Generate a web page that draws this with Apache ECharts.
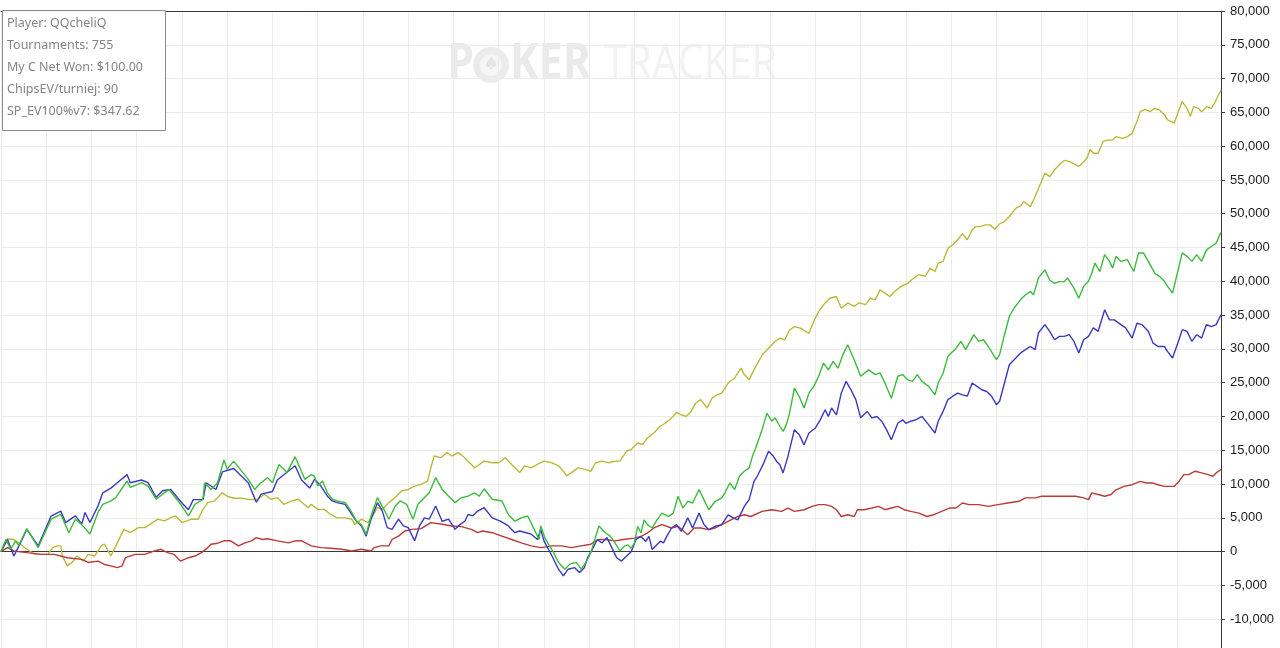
<!DOCTYPE html>
<html><head><meta charset="utf-8">
<script src="https://cdn.jsdelivr.net/npm/echarts@6/dist/echarts.min.js"></script>
<style>html,body{margin:0;padding:0;background:#fff}#c{width:1280px;height:648px}</style>
</head><body><div id="c"></div>
<script>
const infoLines = ['Player: QQcheliQ', 'Tournaments: 755', 'My C Net Won: $100.00', 'ChipsEV/turniej: 90', 'SP_EV100%v7: $347.62'];
const tournamentCount = 755;

// [tournament, chips]
const bluePts = [[0,0],[4,1800],[8,-650],[12,1300],[16,3300],[23,840],[31,5270],[37,6000],[40,4300],[46,5300],[50,4100],[52,5800],[55,4300],[60,6750],[63,8700],[68,9400],[72,10200],[78,11400],[80,10200],[87,10600],[91,10200],[96,8050],[100,9000],[105,9200],[112,7200],[116,6200],[119,7700],[125,7700],[127,10200],[133,9200],[137,11800],[144,12300],[153,10200],[158,7300],[161,8500],[168,8900],[171,10600],[182,12700],[186,10600],[191,9400],
[194,10700],[198,9700],[202,8200],[205,7500],[208,7250],[213,7000],[215,6250],[219,4800],[223,3800],[226,2300],[229,4800],[233,7250],[236,6000],[239,3550],[242,3300],[246,4800],[249,3800],[252,3550],[256,1600],[259,3800],[262,5000],[265,4800],[269,6750],[273,4500],[277,4800],[281,3300],[284,4000],[287,4500],[289,5500],[292,5300],[295,6000],[299,6500],[304,5000],[309,4500],[314,3800],[318,2800],[321,3050],[325,2800],[328,2600],[332,1800],[334,3300],[336,1600],[341,-650],[345,-2600],[348,-3600],[351,-2600],[355,-2370],[358,-3100],[361,-2370],[363,-900],[366,350],[369,1800],[372,1300],[375,2070],[378,600],[381,-900],
[384,-1400],[387,-700],[390,0],[393,1800],[396,2250],[399,1500],[401,2250],[403,300],[405,800],[408,1550],[410,1300],[412,2250],[415,3500],[418,4000],[421,3000],[425,5000],[428,3500],[432,5700],[435,4000],[438,3250],[442,3750],[446,4000],[450,5450],[453,5000],[456,4700],[458,5700],[460,6700],[463,7700],[466,10400],[468,11150],[472,13100],[475,14850],[478,14100],[480,13350],[482,12850],[484,11650],[487,14100],[491,18050],[494,17300],[497,15800],[500,17550],[504,18300],[507,19500],[510,21000],[512,20000],[514,21250],[517,20250],[520,23450],[523,25200],[526,23950],[529,22500],[532,19800],[536,20750],[539,19800],[542,20000],[545,19300],[548,18050],[551,16550],[555,19000],[558,19500],[560,19000],[563,19300],[566,19500],[570,20000],[574,18800],[578,17550],
[580,19300],[583,20750],[586,22500],[589,23000],[592,23450],[595,23200],[598,23000],[601,24950],[604,24450],[607,23950],[610,23700],[613,23000],[616,21750],[618,22250],[621,24950],[624,27650],[628,28650],[631,29400],[634,29900],[637,30350],[640,29900],[642,32350],[646,33600],[649,32600],[652,31350],[655,31850],[658,31850],[661,32100],[664,31100],[667,29400],[670,31350],[673,31850],[676,33100],[679,32600],[683,35800],[686,34300],[689,34300],[693,33600],[696,33100],[700,31600],[703,33800],[706,33600],[710,32600],[713,30850],[716,30350],[720,30350],[722,29600],[725,28650],[729,31350],[731,32850],[734,32600],[737,31100],[740,32100],[743,31600],[746,33600],[749,33300],[752,33600],[755,35050]];

const greenPts = [[0,0],[3,1800],[6,350],[9,1600],[11,900],[16,3400],[23,600],[31,4800],[37,5500],[42,2800],[46,4800],[50,4000],[55,2600],[60,5800],[63,7000],[68,7500],[71,8000],[78,10450],[80,9500],[87,10200],[91,9700],[96,7750],[101,8700],[104,9200],[112,6750],[116,5300],[120,7000],[125,7750],[126,10200],[130,9200],[134,10200],[138,13550],[140,12200],[144,13400],[153,10700],[157,9200],[160,10000],[165,10950],[168,10200],[172,12900],[177,11700],[182,14050],[188,10700],[192,11400],
[194,11150],[196,9700],[199,10450],[202,8700],[205,7750],[208,7500],[213,7250],[216,6250],[220,4500],[223,4000],[226,2560],[229,5270],[233,8000],[237,6250],[240,4800],[244,6750],[247,7500],[251,7000],[255,4800],[258,7000],[261,7750],[265,8700],[269,10950],[273,9200],[277,8200],[281,7250],[285,8000],[289,8200],[293,8700],[296,8200],[299,9300],[304,7750],[310,7500],[314,5500],[318,4500],[322,5000],[326,5270],[330,3300],[333,1800],[334,3800],[337,1800],[342,-150],[345,-1600],[349,-2600],[352,-1850],[356,-1600],[359,-2600],[362,-1600],[365,-150],[370,3800],[374,2800],[377,2300],[380,1300],[383,100],[386,850],
[388,1000],[390,500],[392,1300],[394,3750],[396,2750],[398,4700],[400,4000],[403,3500],[406,4700],[409,5700],[413,5200],[416,5700],[419,8200],[422,6450],[425,7450],[428,7200],[432,9200],[435,7700],[438,6200],[442,7450],[446,7950],[448,8700],[451,10150],[454,9200],[457,11150],[460,11900],[463,12400],[465,14100],[467,15300],[471,18050],[474,20500],[477,19300],[479,19800],[482,18550],[484,17800],[486,18800],[488,20500],[491,24200],[494,22950],[497,21250],[500,23450],[503,24450],[506,25950],[509,27900],[512,26900],[515,28150],[518,27150],[521,29150],[524,30600],[528,28400],[532,25950],[537,26900],[541,26200],[544,26450],[547,24950],[551,22700],[555,25950],[558,26200],[561,25450],[564,25200],[567,26200],[570,25200],[574,24450],[578,23200],
[580,24950],[583,26400],[586,28900],[589,29600],[591,30100],[594,31100],[597,29900],[602,32100],[605,31100],[608,31350],[611,30350],[616,28400],[618,29150],[621,32100],[624,34800],[627,36050],[631,37300],[634,38000],[637,38500],[639,38000],[642,40500],[646,41700],[649,40200],[652,39700],[655,39950],[658,39950],[660,40500],[664,39000],[667,37500],[670,39250],[673,40000],[675,41200],[677,42700],[680,41450],[683,43950],[686,42950],[688,41950],[690,43700],[693,42950],[697,43200],[701,41450],[704,44200],[707,44200],[710,42950],[714,41200],[717,40700],[720,40000],[722,39250],[725,38250],[728,41200],[731,44200],[734,43700],[737,42950],[740,43950],[743,42950],[746,44650],[749,45150],[752,45650],[755,47250]];

const olivePts = [[0,0],[4,1900],[8,1800],[12,1100],[16,350],[21,-400],[25,-400],[29,-400],[32,600],[35,850],[37,850],[38,-650],[41,-2100],[44,-1600],[47,-650],[51,-1400],[54,-400],[58,-650],[62,850],[64,1100],[68,-650],[72,1300],[76,3300],[80,2800],[85,3550],[89,3550],[92,4000],[97,4800],[101,4550],[105,5000],[108,5300],[112,4300],[118,4800],[122,4800],[125,6250],[128,7250],[132,7500],[137,8700],[140,8200],[144,7900],[149,7900],[154,7700],[159,7750],[163,8500],[167,7750],[171,8000],[175,7000],[180,7500],[184,7750],[190,6500],
[192,7000],[196,6250],[200,6250],[204,5500],[208,5000],[213,5000],[217,4800],[219,4000],[223,4800],[227,4300],[230,5270],[233,6500],[236,6250],[240,7250],[244,8000],[248,9000],[252,9200],[256,9700],[260,9950],[264,10450],[266,12400],[268,14150],[272,13900],[276,14650],[279,14150],[283,14650],[287,13900],[290,13150],[293,12400],[296,12900],[299,13400],[304,13150],[308,13150],[312,13900],[316,12900],[319,12200],[321,11700],[324,12700],[328,12400],[332,12900],[336,13400],[341,13150],[345,12700],[348,11900],[350,11200],[353,11700],[357,12400],[361,12200],[365,11900],[368,13150],[372,13400],[376,13150],[380,13400],[383,13400],
[384,13350],[387,14850],[390,15100],[394,16100],[397,15850],[400,16800],[404,17550],[408,18550],[411,19000],[415,19770],[418,20600],[421,20250],[424,20000],[427,20750],[430,22000],[433,22500],[437,21250],[440,22700],[443,23200],[446,23450],[450,24950],[454,25700],[458,27150],[460,26200],[463,25450],[466,26900],[471,29100],[475,30100],[479,31100],[482,31600],[485,31350],[488,32800],[491,33300],[495,33050],[500,32300],[503,34050],[506,35550],[510,36800],[513,37500],[517,37750],[520,36000],[524,36800],[528,36300],[531,36800],[535,36550],[538,37500],[541,37250],[544,38750],[547,38250],[550,37750],[553,38500],[557,39250],[561,39700],[564,40300],
[568,41000],[572,40750],[575,41950],[578,41450],[580,42700],[583,42950],[586,44900],[589,45400],[592,46150],[595,47050],[598,46150],[601,47600],[603,48100],[606,48100],[609,48350],[612,48350],[615,47700],[618,48500],[621,48850],[624,49600],[628,50800],[631,51150],[633,51800],[637,51050],[640,52550],[643,54300],[646,56000],[649,55500],[652,56500],[655,57250],[658,57900],[661,57750],[665,57250],[667,57000],[670,57700],[672,58200],[674,59550],[676,58950],[679,58950],[682,60700],[685,60900],[688,60900],[690,61400],[694,61150],[697,61400],[700,61900],[703,63650],[705,65100],[708,65450],[711,65100],[714,65600],[717,65350],[720,64650],[722,63900],[726,63400],[729,65350],[731,66600],[734,65600],[736,64400],[738,65850],[741,65600],[743,65100],[746,65850],[749,65600],[751,66350],[753,67340],[755,68300]];

const redPts = [[0,0],[4,600],[8,100],[16,-150],[25,-400],[33,-400],[41,-900],[50,-1150],[54,-1600],[60,-1400],[64,-1900],[68,-2100],[72,-2370],[75,-2100],[77,-900],[83,-400],[89,-400],[95,100],[99,350],[103,-150],[107,-400],[111,-1400],[116,-900],[120,-650],[124,-150],[128,600],[130,1100],[134,1250],[138,1600],[142,1600],[147,850],[151,1300],[155,1600],[158,2070],[162,1800],[165,1900],[171,1600],[178,1300],[182,1600],[186,1600],[190,1100],
[192,850],[198,600],[204,500],[211,350],[217,100],[223,350],[229,100],[231,600],[235,850],[240,850],[242,1800],[246,2300],[250,3050],[254,3300],[260,3400],[266,4300],[273,4050],[279,3800],[285,3700],[291,3300],[295,2800],[298,3050],[304,2800],[310,2300],[316,1800],[322,1300],[328,850],[334,600],[341,850],[347,850],[353,600],[359,850],[365,1100],[370,1800],[374,1800],[380,1600],[385,1800],
[392,2000],[396,2250],[400,2750],[404,3500],[409,4000],[415,3500],[419,3750],[425,2500],[429,3500],[433,3500],[438,3250],[442,3500],[446,4000],[452,4750],[456,5200],[460,5450],[464,5200],[471,5950],[477,6200],[483,5950],[487,6450],[491,5950],[497,6200],[502,6700],[506,6950],[510,6950],[514,6700],[517,6200],[520,5200],[524,5450],[528,5200],[530,6200],[534,6200],[539,6450],[543,6700],[547,6200],[551,6450],[555,6700],[559,6200],[563,5950],[568,5700],[573,5200],[577,5450],[582,5950],[587,6450],[591,6450],[595,7200],[599,6950],[605,6950],[611,6700],[617,6950],[623,7200],[630,7450],[634,7950],[640,7950],[644,8200],[652,8200],[661,8200],[665,8200],[670,7950],[673,7700],[675,8700],[679,8450],[683,8200],[687,8450],[690,9150],[695,9650],[700,9900],[705,10400],[709,10150],[713,10150],[716,9900],[720,9650],[726,9650],[729,10400],[732,11400],[735,11400],[739,11900],[743,11650],[747,11400],[750,11150],[752,11650],[755,12150]];

const yMin = -15000, yMax = 80000, yStep = 5000, xStep = 28;

function fmt(v) {
  if (v < -12000) return '';
  const s = Math.abs(v).toString().replace(/\B(?=(\d{3})+(?!\d))/g, ',');
  return (v < 0 ? '-' : '') + s;
}

const chart = echarts.init(document.getElementById('c'), null, {renderer: 'canvas'});
const gridColor = '#ececec';
const axisColor = '#3a3a3a';

const infoTexts = infoLines.map((t, i) => ({
  type: 'text', x: 7, y: 23 + i * 22, z: 101,
  style: {text: t, fill: '#858585', font: '12.5px "Noto Sans"', verticalAlign: 'middle'}
}));

chart.setOption({
  animation: false,
  backgroundColor: '#ffffff',
  grid: {left: 1, right: 59, top: 11, bottom: -5, containLabel: false, outerBoundsMode: 'none'},
  xAxis: [
    {type: 'value', min: 0, max: tournamentCount, interval: xStep, position: 'bottom',
     axisLine: {show: true, onZero: true, lineStyle: {color: axisColor, width: 1}},
     axisTick: {show: false}, axisLabel: {show: false},
     splitLine: {show: true, lineStyle: {color: gridColor, width: 1}}},
    {type: 'value', min: 0, max: tournamentCount, interval: xStep, position: 'top',
     axisLine: {show: true, onZero: false, lineStyle: {color: axisColor, width: 1}},
     axisTick: {show: false}, axisLabel: {show: false}, splitLine: {show: false}}
  ],
  yAxis: {type: 'value', position: 'right', min: yMin, max: yMax, interval: yStep,
    axisLine: {show: true, onZero: false, lineStyle: {color: axisColor, width: 1}},
    axisTick: {show: true, inside: false, length: 4, lineStyle: {color: axisColor}},
    axisLabel: {show: true, margin: 9, color: '#222222', fontFamily: '"Liberation Sans", Arial, sans-serif', fontSize: 13, formatter: fmt},
    splitLine: {show: true, lineStyle: {color: gridColor, width: 1}}},
  graphic: [
    {type: 'group', z: -10, silent: true, children: [
      {type: 'text', x: 447, y: 65, scaleX: 0.86, style: {text: 'P', fill: '#eaeaea', font: 'bold 50px "Open Sans"', verticalAlign: 'middle'}},
      {type: 'circle', shape: {cx: 491, cy: 65, r: 18}, style: {fill: '#ebebeb'}},
      {type: 'circle', shape: {cx: 491, cy: 65, r: 11}, style: {fill: '#f5f5f5'}},
      {type: 'text', x: 491, y: 65, style: {text: '♠', fill: '#e4e4e4', font: '17px "DejaVu Sans"', align: 'center', verticalAlign: 'middle'}},
      {type: 'text', x: 510, y: 65, scaleX: 0.86, style: {text: 'KER', fill: '#eaeaea', font: 'bold 50px "Open Sans"', verticalAlign: 'middle'}},
      {type: 'text', x: 604, y: 65, scaleX: 0.82, style: {text: 'TRACKER', fill: '#f2f2f2', font: '50px "Open Sans"', verticalAlign: 'middle'}}
    ]},
    {type: 'rect', x: 2.5, y: 10.5, z: 100, shape: {width: 163, height: 120},
     style: {fill: 'rgba(255,255,255,0.95)', stroke: '#8c8c8c', lineWidth: 1}},
    ...infoTexts
  ],
  series: [
    {name: 'ChipsEV', type: 'line', data: olivePts, showSymbol: false, lineStyle: {color: 'rgb(186,186,58)', width: 1.4}, itemStyle: {color: 'rgb(186,186,58)'}},
    {name: 'Chips Won (no showdown)', type: 'line', data: redPts, showSymbol: false, lineStyle: {color: 'rgb(186,58,58)', width: 1.4}, itemStyle: {color: 'rgb(186,58,58)'}},
    {name: 'Chips Won (all-in adj.)', type: 'line', data: bluePts, showSymbol: false, lineStyle: {color: 'rgb(58,58,190)', width: 1.4}, itemStyle: {color: 'rgb(58,58,190)'}},
    {name: 'Chips Won', type: 'line', data: greenPts, showSymbol: false, lineStyle: {color: 'rgb(62,186,62)', width: 1.4}, itemStyle: {color: 'rgb(62,186,62)'}}
  ]
});
</script></body></html>
